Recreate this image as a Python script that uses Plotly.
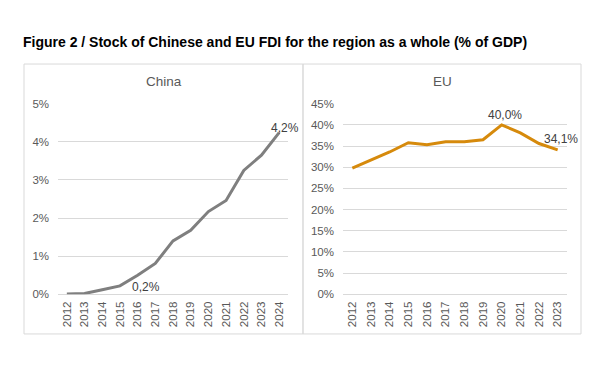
import plotly.graph_objects as go

W, H = 605, 368

china_years = [str(y) for y in range(2012, 2025)]
china_values = [0.01, 0.02, 0.12, 0.22, 0.50, 0.81, 1.40, 1.68, 2.17, 2.46, 3.25, 3.65, 4.24]

eu_years = [str(y) for y in range(2012, 2024)]
eu_values = [29.8, 31.7, 33.6, 35.8, 35.3, 36.0, 36.0, 36.5, 40.0, 38.1, 35.6, 34.1]

china_yticks = [0, 1, 2, 3, 4, 5]
eu_yticks = [0, 5, 10, 15, 20, 25, 30, 35, 40, 45]

title = "Figure 2 / Stock of Chinese and EU FDI for the region as a whole (% of GDP)"

FONT = "Arial, Liberation Sans, sans-serif"
TICK = "#595959"
GRID = "#d9d9d9"


def px(x):
    return x / W


def py(y):
    return 1 - y / H


def lab(v):
    return f"{v:.1f}".replace(".", ",") + "%"


fig = go.Figure()
fig.add_trace(go.Scatter(x=china_years, y=china_values, mode="lines",
                         line=dict(color="#7f7f7f", width=3),
                         xaxis="x", yaxis="y", showlegend=False, hoverinfo="skip"))
fig.add_trace(go.Scatter(x=eu_years, y=eu_values, mode="lines",
                         line=dict(color="#d68a0c", width=3),
                         xaxis="x2", yaxis="y2", showlegend=False, hoverinfo="skip"))

xcommon = dict(type="category", tickangle=-90, showgrid=False, zeroline=False,
               showline=False, ticks="", tickfont=dict(family=FONT, size=11.5, color=TICK),
               ticklabelstandoff=4, fixedrange=True)
ycommon = dict(showgrid=True, gridcolor=GRID, gridwidth=1, zeroline=True,
               zerolinecolor=GRID, zerolinewidth=1, showline=False, ticks="",
               tickfont=dict(family=FONT, size=11.5, color=TICK), ticklabelstandoff=8,
               fixedrange=True)

fig.update_layout(
    width=W, height=H,
    margin=dict(l=0, r=0, t=0, b=0),
    paper_bgcolor="white", plot_bgcolor="white",
    xaxis=dict(domain=[px(58), px(288)], range=[-0.5, len(china_years) - 0.5],
               anchor="y", **xcommon),
    yaxis=dict(domain=[py(298), py(101)], range=[0, 5], anchor="x",
               tickvals=china_yticks, ticktext=[f"{v}%" for v in china_yticks], **ycommon),
    xaxis2=dict(domain=[px(343), px(567)], range=[-0.5, len(eu_years) - 0.5],
                anchor="y2", **xcommon),
    yaxis2=dict(domain=[py(298), py(101)], range=[0, 45], anchor="x2",
                tickvals=eu_yticks, ticktext=[f"{v}%" for v in eu_yticks], **ycommon),
    shapes=[
        dict(type="rect", xref="paper", yref="paper", x0=px(24), x1=px(303),
             y0=py(339), y1=py(60), line=dict(color=GRID, width=1)),
        dict(type="rect", xref="paper", yref="paper", x0=px(303), x1=px(581),
             y0=py(339), y1=py(60), line=dict(color=GRID, width=1)),
    ],
)

ann = []
ann.append(dict(text="<b>" + title + "</b>", xref="paper", yref="paper",
                x=px(21), y=py(37), xanchor="left", yanchor="middle", showarrow=False,
                font=dict(family=FONT, size=14, color="black")))
ann.append(dict(text="China", xref="paper", yref="paper", x=px(163.5), y=py(78),
                xanchor="center", yanchor="middle", showarrow=False,
                font=dict(family=FONT, size=13.5, color=TICK)))
ann.append(dict(text="EU", xref="paper", yref="paper", x=px(442), y=py(78),
                xanchor="center", yanchor="middle", showarrow=False,
                font=dict(family=FONT, size=13.5, color=TICK)))

lab_font = dict(family=FONT, size=12, color="#404040")
i = china_years.index("2015")
ann.append(dict(text=lab(china_values[i]), x=i, y=china_values[i],
                xref="x", yref="y", xanchor="left", yanchor="middle", xshift=10, yshift=-1,
                showarrow=False, font=lab_font))
i = china_years.index("2024")
ann.append(dict(text=lab(china_values[i]), x=i, y=china_values[i],
                xref="x", yref="y", xanchor="center", yanchor="middle", xshift=6, yshift=5,
                showarrow=False, font=lab_font))
i = eu_years.index("2020")
ann.append(dict(text=lab(eu_values[i]), x=i, y=eu_values[i],
                xref="x2", yref="y2", xanchor="center", yanchor="middle", xshift=3, yshift=10,
                showarrow=False, font=lab_font))
i = eu_years.index("2023")
ann.append(dict(text=lab(eu_values[i]), x=i, y=eu_values[i],
                xref="x2", yref="y2", xanchor="center", yanchor="middle", xshift=3, yshift=11,
                showarrow=False, font=lab_font))
fig.update_layout(annotations=ann)

fig.write_html("out.html", config={"displayModeBar": False},
               post_script="document.body.style.margin='0px';")
